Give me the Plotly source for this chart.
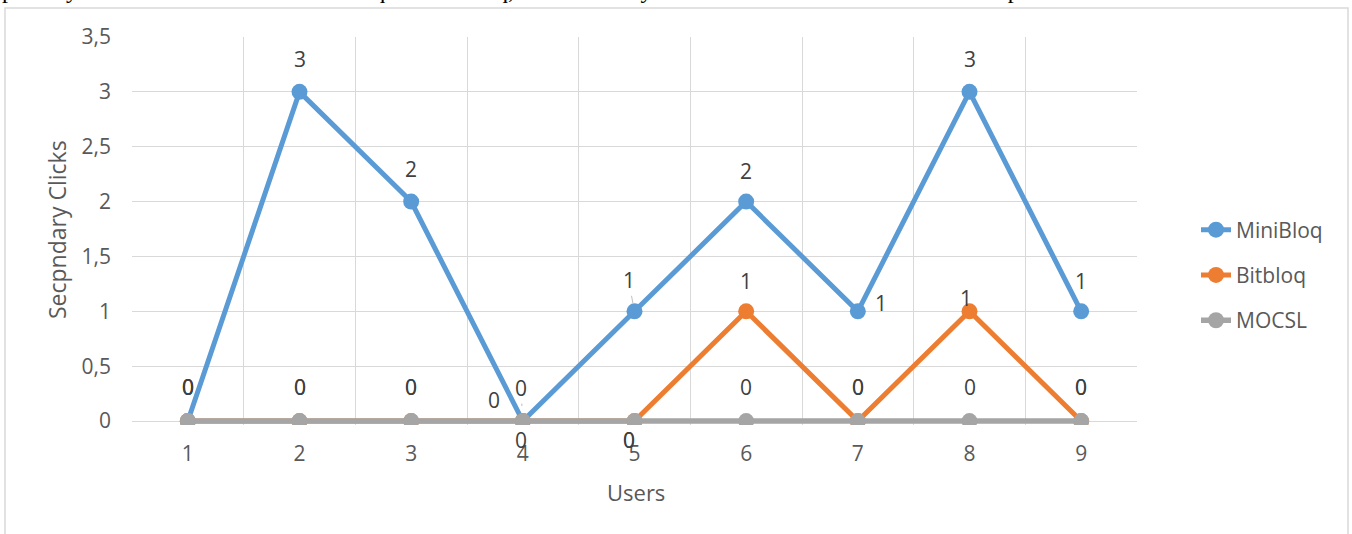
import plotly.graph_objects as go

# Users 1..9 and the number of secondary-button clicks per tool
users = [1, 2, 3, 4, 5, 6, 7, 8, 9]
minibloq = [0, 3, 2, 0, 1, 2, 1, 3, 1]
bitbloq = [0, 0, 0, 0, 0, 1, 0, 1, 0]
mocsl = [0, 0, 0, 0, 0, 0, 0, 0, 0]

series_names = ["MiniBloq", "Bitbloq", "MOCSL"]
series_values = [minibloq, bitbloq, mocsl]
series_colors = ["#5B9BD5", "#ED7D31", "#A5A5A5"]
series_widths = [5, 5, 5.6]

y_ticks = [0, 0.5, 1, 1.5, 2, 2.5, 3, 3.5]

caption = ("primary button. In the case of MiniBloq and BitBloq, the secondary "
           "button has shortcuts and the delete option.")

# label offsets (px) per series and user: (xshift, yshift, leader standoff or None)
label_offsets = {
    "MiniBloq": [(0, 34, None), (0, 33, None), (0, 33, None), (-29, 21, None),
                 (-6, 31, 8), (0, 31, None), (23, 8, None), (0, 33, None), (0, 30, None)],
    "Bitbloq": [(0, 34, None), (0, 34, None), (0, 34, None), (-2, 33, 15),
                (-6, -19, None), (0, 30, None), (0, 34, None), (-4, 13, None), (0, 34, None)],
    "MOCSL": [(0, 34, None), (0, 34, None), (0, 34, None), (-2, -19, None),
              (-6, -19, None), (0, 34, None), (0, 34, None), (0, 34, None), (0, 34, None)],
}

FONT = "Open Sans"
TEXT = "#595959"
LABEL = "#404040"
GRID = "#D9D9D9"

W, H = 1352, 534
# plot area in pixels; the bottom sits a few px below the zero line so
# the thick lines along zero are not clipped
L, R, T, B = 132, 1137, 37, 425
Y_LOW, Y_HIGH = -0.036, 3.5

fig = go.Figure()

# series drawn in order, so the gray MOCSL line lies on top along zero
for name, vals, col, lw in zip(series_names, series_values, series_colors, series_widths):
    fig.add_trace(go.Scatter(
        x=users, y=vals, name=name, mode="lines+markers",
        line=dict(color=col, width=lw),
        marker=dict(color=col, size=16),
        legendgroup=name,
    ))

annotations = []
for name, vals in zip(series_names, series_values):
    for u, v, (dx, dy, leader) in zip(users, vals, label_offsets[name]):
        if leader is None:
            annotations.append(dict(
                x=u, y=v, xref="x", yref="y", text=str(v), showarrow=False,
                xshift=dx, yshift=dy, font=dict(family=FONT, size=21, color=LABEL)))
        else:
            annotations.append(dict(
                x=u, y=v, xref="x", yref="y", text=str(v), showarrow=True,
                ax=dx, ay=-dy, axref="pixel", ayref="pixel",
                arrowhead=0, arrowwidth=1, arrowcolor="#BFBFBF", standoff=leader,
                font=dict(family=FONT, size=21, color=LABEL)))

pw, ph = R - L, B - T


def px(xp):
    return (xp - L) / pw


def py(yp):
    return (B - yp) / ph


annotations.append(dict(
    x=px(636), y=py(492), xref="paper", yref="paper", xanchor="center", yanchor="middle",
    text="Users", showarrow=False, font=dict(family=FONT, size=22, color=TEXT)))
annotations.append(dict(
    x=px(57), y=py(230), xref="paper", yref="paper", xanchor="center", yanchor="middle",
    text="Secpndary Clicks", showarrow=False, textangle=-90,
    font=dict(family=FONT, size=23, color=TEXT)))
annotations.append(dict(
    x=px(0), y=py(5), xref="paper", yref="paper", xanchor="left", yanchor="bottom",
    text=caption, showarrow=False,
    font=dict(family="Liberation Serif", size=24, color="#000000")))

shapes = [dict(
    type="rect", xref="paper", yref="paper",
    x0=px(5), x1=px(1348), y0=py(560), y1=py(8),
    line=dict(color=GRID, width=1.5), layer="below")]

fig.update_layout(
    width=W, height=H,
    margin=dict(l=L, r=W - R, t=T, b=H - B),
    paper_bgcolor="white", plot_bgcolor="white",
    separators=",.",
    font=dict(family=FONT, size=21, color=TEXT),
    showlegend=True,
    legend=dict(x=px(1196), y=py(275), xanchor="left", yanchor="middle",
                font=dict(family=FONT, size=21, color=TEXT),
                tracegroupgap=15, itemwidth=30, bgcolor="rgba(0,0,0,0)"),
    annotations=annotations,
    shapes=shapes,
    xaxis=dict(range=[0.5, 9.5], tickvals=users, ticktext=[str(u) for u in users],
               showgrid=False, zeroline=False, showline=False, ticks="",
               ticklabelstandoff=14,
               minor=dict(tick0=0.5, dtick=1, showgrid=True, gridcolor=GRID, gridwidth=1),
               tickfont=dict(family=FONT, size=21, color=TEXT)),
    yaxis=dict(range=[Y_LOW, Y_HIGH], tickvals=y_ticks, showgrid=True, gridcolor=GRID,
               gridwidth=1, zeroline=False, showline=False, ticks="",
               ticklabelstandoff=20,
               tickfont=dict(family=FONT, size=21, color=TEXT)),
)

fig.write_html("out.html")
